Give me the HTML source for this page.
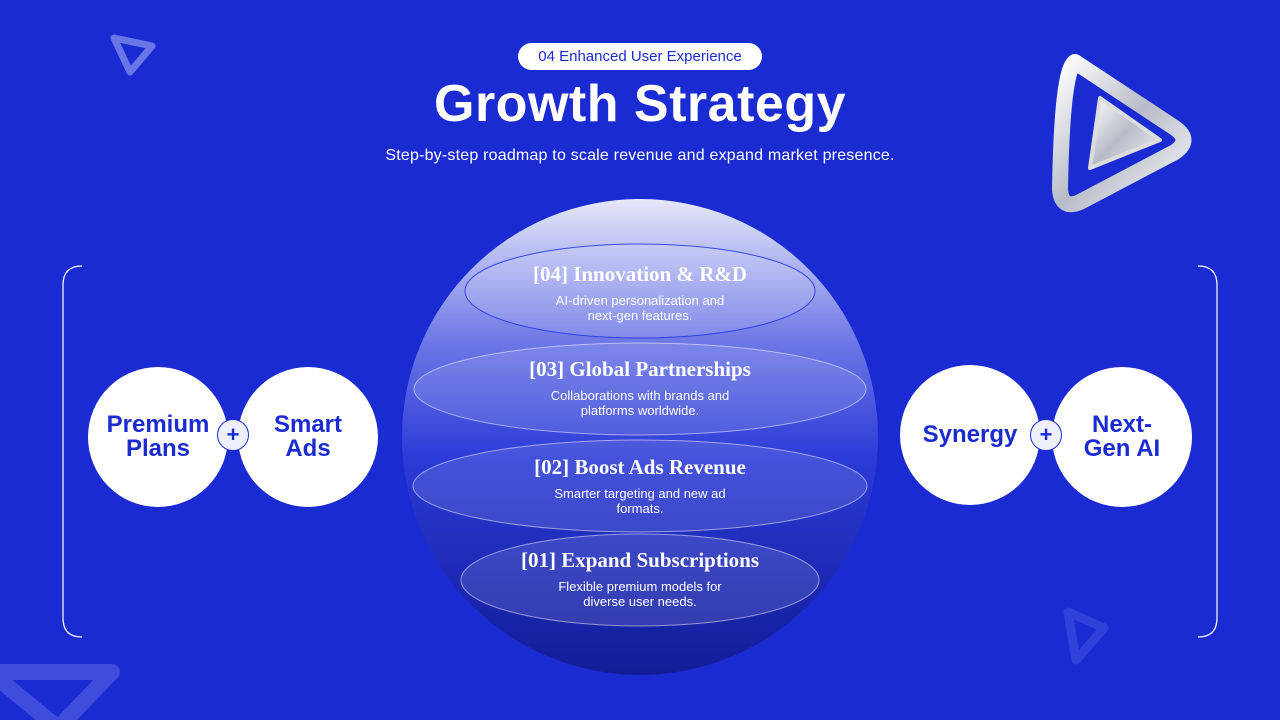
<!DOCTYPE html>
<html><head><meta charset="utf-8"><style>
*{margin:0;padding:0;box-sizing:border-box}
body{width:1280px;height:720px;overflow:hidden;background:#1a2bd2;font-family:"Liberation Sans",sans-serif;position:relative}
.abs{position:absolute}
.pill{left:518px;top:43px;width:244px;height:27px;background:#fff;border-radius:14px;color:#1a2bd2;font-size:15px;text-align:center;line-height:27px}
h1{position:absolute;left:0;width:1280px;top:74px;text-align:center;color:#fff;font-size:52px;font-weight:bold;letter-spacing:0.5px}
.sub{left:0;width:1280px;top:147px;text-align:center;color:#fff;font-size:16px;letter-spacing:0.2px}
.c{width:140px;height:140px;border-radius:50%;background:#fff;color:#1a2bd2;font-weight:bold;font-size:24px;line-height:24px;display:flex;align-items:center;justify-content:center;text-align:center}
.plus{width:32px;height:32px;border-radius:50%;background:#eef0ff;border:1px solid #1a2bd2;color:#1a2bd2;font-size:22px;font-weight:bold;display:flex;align-items:center;justify-content:center;line-height:1}
.t{color:#fff;text-align:center;width:400px}
.t b{display:block;font-family:"Liberation Serif",serif;font-size:21px}
.t span{display:block;font-size:13px;line-height:15px;margin-top:6px}
</style></head><body>
<svg class="abs" style="left:0;top:0" width="1280" height="720">
<defs>
<linearGradient id="sg" x1="0" y1="0" x2="0" y2="1">
<stop offset="0" stop-color="#e6e8fb"/><stop offset="0.3" stop-color="#6d78e6"/><stop offset="0.55" stop-color="#2a3ad6"/><stop offset="1" stop-color="#121c96"/></linearGradient>
<linearGradient id="mg" x1="0" y1="0" x2="1" y2="1"><stop offset="0" stop-color="#ffffff"/><stop offset="0.5" stop-color="#b8bcc8"/><stop offset="1" stop-color="#f4f4f8"/></linearGradient>
</defs>
<circle cx="640" cy="437" r="238" fill="url(#sg)"/>
<ellipse cx="640" cy="291" rx="175" ry="47" fill="rgba(255,255,255,0.12)" stroke="rgba(40,60,230,0.9)" stroke-width="1"/>
<ellipse cx="640" cy="389" rx="226" ry="46" fill="rgba(255,255,255,0.12)" stroke="rgba(255,255,255,0.5)" stroke-width="1"/>
<ellipse cx="640" cy="486" rx="227" ry="46" fill="rgba(255,255,255,0.12)" stroke="rgba(255,255,255,0.5)" stroke-width="1"/>
<ellipse cx="640" cy="580" rx="179" ry="46" fill="rgba(255,255,255,0.12)" stroke="rgba(255,255,255,0.5)" stroke-width="1"/>
<path d="M82 266 Q63 266 63 285 L63 618 Q63 637 82 637" fill="none" stroke="#fff" stroke-width="1.2"/>
<path d="M1198 266 Q1217 266 1217 285 L1217 618 Q1217 637 1198 637" fill="none" stroke="#fff" stroke-width="1.2"/>
<path d="M1075 62 Q1062 70 1060 190 Q1062 210 1080 202 L1175 152 Q1192 140 1175 128 Z" fill="none" stroke="url(#mg)" stroke-width="16" stroke-linejoin="round"/>
<path d="M1100 98 L1090 168 L1160 140 Z" fill="url(#mg)" stroke="#ddd" stroke-width="4" stroke-linejoin="round"/>
<path d="M114 38 L152 46 L130 72 Z" fill="none" stroke="rgba(200,210,255,0.45)" stroke-width="7" stroke-linejoin="round"/>
<path d="M1068 612 L1104 628 L1076 660 Z" fill="none" stroke="rgba(110,130,240,0.25)" stroke-width="9" stroke-linejoin="round"/>
<path d="M-10 672 L112 672 L58 728 Z" fill="none" stroke="rgba(170,180,250,0.25)" stroke-width="16" stroke-linejoin="round"/>
</svg>
<div class="abs pill">04 Enhanced User Experience</div>
<h1>Growth Strategy</h1>
<div class="abs sub">Step-by-step roadmap to scale revenue and expand market presence.</div>
<div class="abs t" style="left:440px;top:262px"><b>[04] Innovation &amp; R&amp;D</b><span>AI-driven personalization and<br>next-gen features.</span></div>
<div class="abs t" style="left:440px;top:357px"><b>[03] Global Partnerships</b><span>Collaborations with brands and<br>platforms worldwide.</span></div>
<div class="abs t" style="left:440px;top:455px"><b>[02] Boost Ads Revenue</b><span>Smarter targeting and new ad<br>formats.</span></div>
<div class="abs t" style="left:440px;top:548px"><b>[01] Expand Subscriptions</b><span>Flexible premium models for<br>diverse user needs.</span></div>
<div class="abs c" style="left:88px;top:367px">Premium<br>Plans</div>
<div class="abs c" style="left:238px;top:367px">Smart<br>Ads</div>
<div class="abs plus" style="left:217px;top:419px">+</div>
<div class="abs c" style="left:900px;top:365px">Synergy</div>
<div class="abs c" style="left:1052px;top:367px">Next-<br>Gen AI</div>
<div class="abs plus" style="left:1030px;top:419px">+</div>
</body></html>
